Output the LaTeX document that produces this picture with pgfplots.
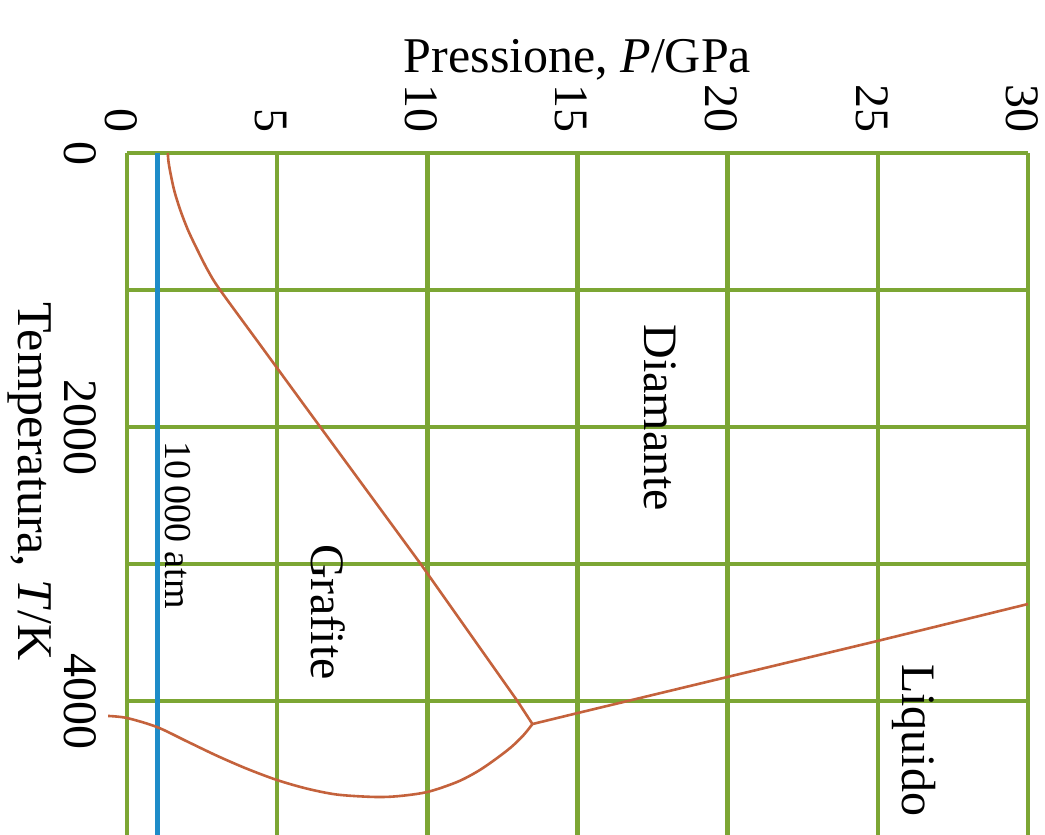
\documentclass[border=0pt]{standalone}
\usepackage{fontspec}
\setmainfont{Liberation Serif}
\usepackage{pgfplots}
\pgfplotsset{compat=1.18}

\definecolor{gridgreen}{RGB}{124,166,52}
\definecolor{isobar}{RGB}{30,140,200}
\definecolor{phaseline}{RGB}{196,98,60}

\begin{document}
\begin{tikzpicture}
% page frame: 1 px = 0.5 pt
\useasboundingbox (-63.5pt,76.5pt) rectangle (459pt,-341pt);
\begin{axis}[
  at={(0pt,0pt)}, anchor=north west,
  scale only axis,
  width=450.5pt, height=341pt,
  xmin=0, xmax=30,
  ymin=0, ymax=4978,
  y dir=reverse,
  clip=false,
  axis line style={draw=none},
  xtick={0,5,...,30},
  ytick={0,2000,4000},
  extra y ticks={1000,3000},
  extra y tick labels={},
  extra y tick style={grid=major, major tick length=0pt},
  xticklabel pos=top,
  major tick length=0pt,
  grid=major,
  major grid style={gridgreen, line width=2.2pt},
  /pgf/number format/assume math mode=true,
  /pgf/number format/1000 sep={},
  xticklabel style={font=\fontsize{24}{28}\selectfont, xshift=-3pt, rotate=-90, anchor=east, inner xsep=10pt},
  yticklabel style={font=\fontsize{24}{28}\selectfont, rotate=-90, anchor=north, inner ysep=15pt},
  every axis x label/.style={at={(axis description cs:0.5,1.1364)}, anchor=center,
    font=\fontsize{25}{30}\selectfont},
  every axis y label/.style={at={(axis description cs:-0.1077,0.518)}, anchor=center, rotate=-90,
    font=\fontsize{25}{30}\selectfont},
  xlabel={Pressione, \textit{P}/GPa},
  ylabel={Temperatura, \textit{T}/K},
]
% 10 000 atm isobar
\addplot[isobar, line width=2.2pt] coordinates {(1.013,0) (1.013,4978)};

% graphite / diamond boundary
\addplot[phaseline, line width=1.3pt, smooth] coordinates {
  (1.36,0) (1.38,60) (1.45,150) (1.58,280) (1.78,420) (2.03,562)
  (2.35,710) (2.7,860) (3.1,1000) (4.5,1420) (6,1870)};
\addplot[phaseline, line width=1.3pt] coordinates {
  (6,1870) (9.78,3000) (13.0,4000) (13.5,4168)};

% diamond / liquid boundary
\addplot[phaseline, line width=1.3pt] coordinates {
  (13.5,4168) (15,4088) (20,3824) (25,3561) (30,3292)};

% graphite / liquid boundary
\addplot[phaseline, line width=1.3pt, smooth] coordinates {
  (-0.63,4109) (0,4124) (1,4190) (2,4295) (3,4400) (4,4495) (5,4577)
  (6,4640) (7,4683) (8.2,4700) (9,4695) (10,4664) (11,4590) (11.7,4510)
  (12.3,4420) (12.8,4335) (13.2,4250) (13.5,4168)};

% phase labels
\node[rotate=-90, font=\fontsize{24}{28}\selectfont] at (axis cs:17.75,1934) {Diamante};
\node[rotate=-90, font=\fontsize{24}{28}\selectfont] at (axis cs:6.7,3350) {Grafite};
\node[rotate=-90, font=\fontsize{24}{28}\selectfont] at (axis cs:26.2,4285) {Liquido};
\node[rotate=-90, font=\fontsize{19}{23}\selectfont] at (axis cs:1.7,2715) {10\,000 atm};
\end{axis}
\end{tikzpicture}
\end{document}
